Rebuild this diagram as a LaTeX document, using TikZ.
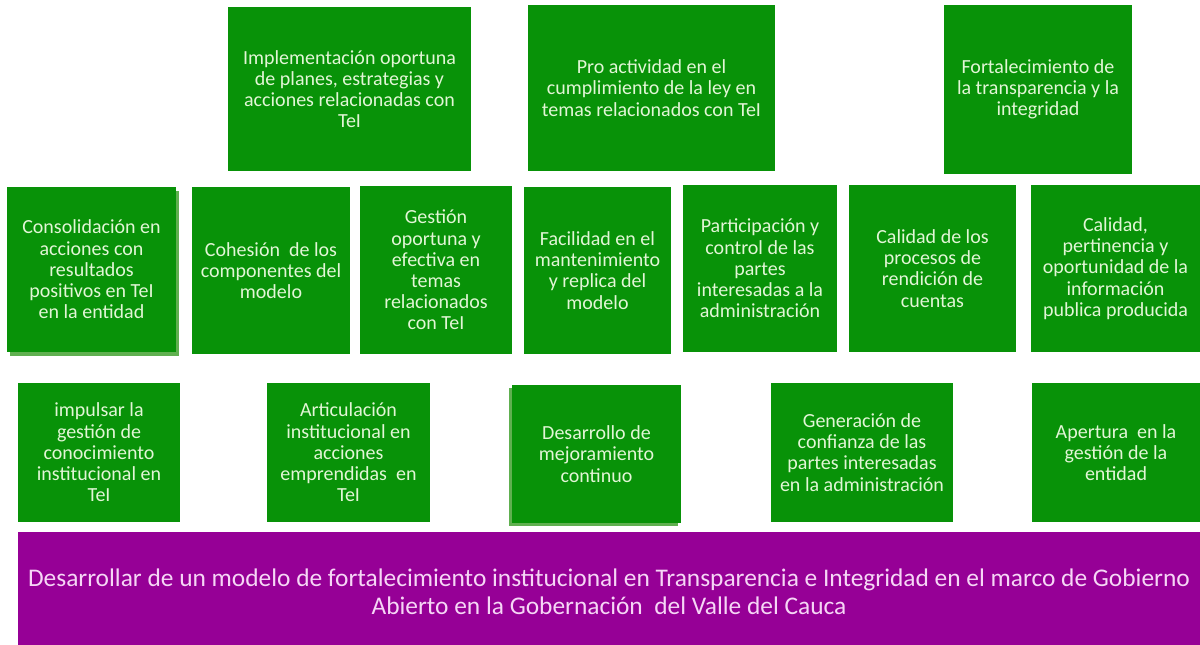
\documentclass[tikz,border=0pt]{standalone}
\usepackage{fontspec}
\setmainfont{Carlito}
\usetikzlibrary{shadows}
\definecolor{boxgreen}{RGB}{8,146,8}
\definecolor{shadowgreen}{RGB}{96,176,80}
\definecolor{boxpurple}{RGB}{150,0,150}
\definecolor{gtext}{RGB}{226,246,214}
\definecolor{ptext}{RGB}{246,214,246}
\tikzset{
  gbox/.style={rectangle, fill=boxgreen, text=gtext, align=center, inner sep=0pt,
    font=\fontsize{20}{21.2}\selectfont},
  pbox/.style={rectangle, fill=boxpurple, text=ptext, align=center, inner sep=0pt,
    font=\fontsize{25.4}{28}\selectfont},
  shadowbr/.style={drop shadow={shadow xshift=3pt, shadow yshift=-4pt, fill=shadowgreen, opacity=1}},
  shadowbl/.style={drop shadow={shadow xshift=-3pt, shadow yshift=-3pt, fill=shadowgreen, opacity=1}},
}
\begin{document}
\begin{tikzpicture}[x=1pt,y=-1pt]
\clip (0,0) rectangle (1200,645);
\fill[white] (0,0) rectangle (1200,645);
% top row
\node[gbox, minimum width=243pt, minimum height=164pt] (a) at (349.5,89) {Implementación oportuna\\de planes, estrategias y\\acciones relacionadas con\\TeI};
\node[gbox, minimum width=247pt, minimum height=166pt] (b) at (651.5,88) {Pro actividad en el\\cumplimiento de la ley en\\temas relacionados con TeI};
\node[gbox, minimum width=188pt, minimum height=169pt] (c) at (1038,89.5) {Fortalecimiento de\\la transparencia y la\\integridad};
% middle row
\node[gbox, shadowbr, minimum width=169pt, minimum height=165pt] (m1) at (91.5,269.5) {Consolidación en\\acciones con\\resultados\\positivos en TeI\\en la entidad};
\node[gbox, minimum width=158pt, minimum height=167pt] (m2) at (271,270.5) {Cohesión\ \ de los\\componentes del\\modelo};
\node[gbox, minimum width=152pt, minimum height=168pt] (m3) at (436,270) {Gestión\\oportuna y\\efectiva en\\temas\\relacionados\\con TeI};
\node[gbox, minimum width=147pt, minimum height=167pt] (m4) at (597.5,270.5) {Facilidad en el\\mantenimiento\\y replica del\\modelo};
\node[gbox, minimum width=154pt, minimum height=167pt] (m5) at (760,268.5) {Participación y\\control de las\\partes\\interesadas a la\\administración};
\node[gbox, minimum width=167pt, minimum height=167pt] (m6) at (932.5,268.5) {Calidad de los\\procesos de\\rendición de\\cuentas};
\node[gbox, minimum width=169pt, minimum height=167pt] (m7) at (1115.5,268.5) {Calidad,\\pertinencia y\\oportunidad de la\\información\\publica producida};
% bottom row
\node[gbox, minimum width=162pt, minimum height=139pt] (b1) at (99,452.5) {impulsar la\\gestión de\\conocimiento\\institucional en\\TeI};
\node[gbox, minimum width=163pt, minimum height=139pt] (b2) at (348.5,452.5) {Articulación\\institucional en\\acciones\\emprendidas\ \ en\\TeI};
\node[gbox, shadowbl, minimum width=169pt, minimum height=138pt] (b3) at (596.5,454) {Desarrollo de\\mejoramiento\\continuo};
\node[gbox, minimum width=182pt, minimum height=139pt] (b4) at (862,452.5) {Generación de\\confianza de las\\partes interesadas\\en la administración};
\node[gbox, minimum width=168pt, minimum height=139pt] (b5) at (1116,452.5) {Apertura\ \ en la\\gestión de la\\entidad};
% goal
\node[pbox, minimum width=1182pt, minimum height=120pt] (goal) at (609,592) {Desarrollar de un modelo de fortalecimiento institucional en Transparencia e Integridad en el marco de Gobierno\\Abierto en la Gobernación\ \ del Valle del Cauca};
\end{tikzpicture}
\end{document}
